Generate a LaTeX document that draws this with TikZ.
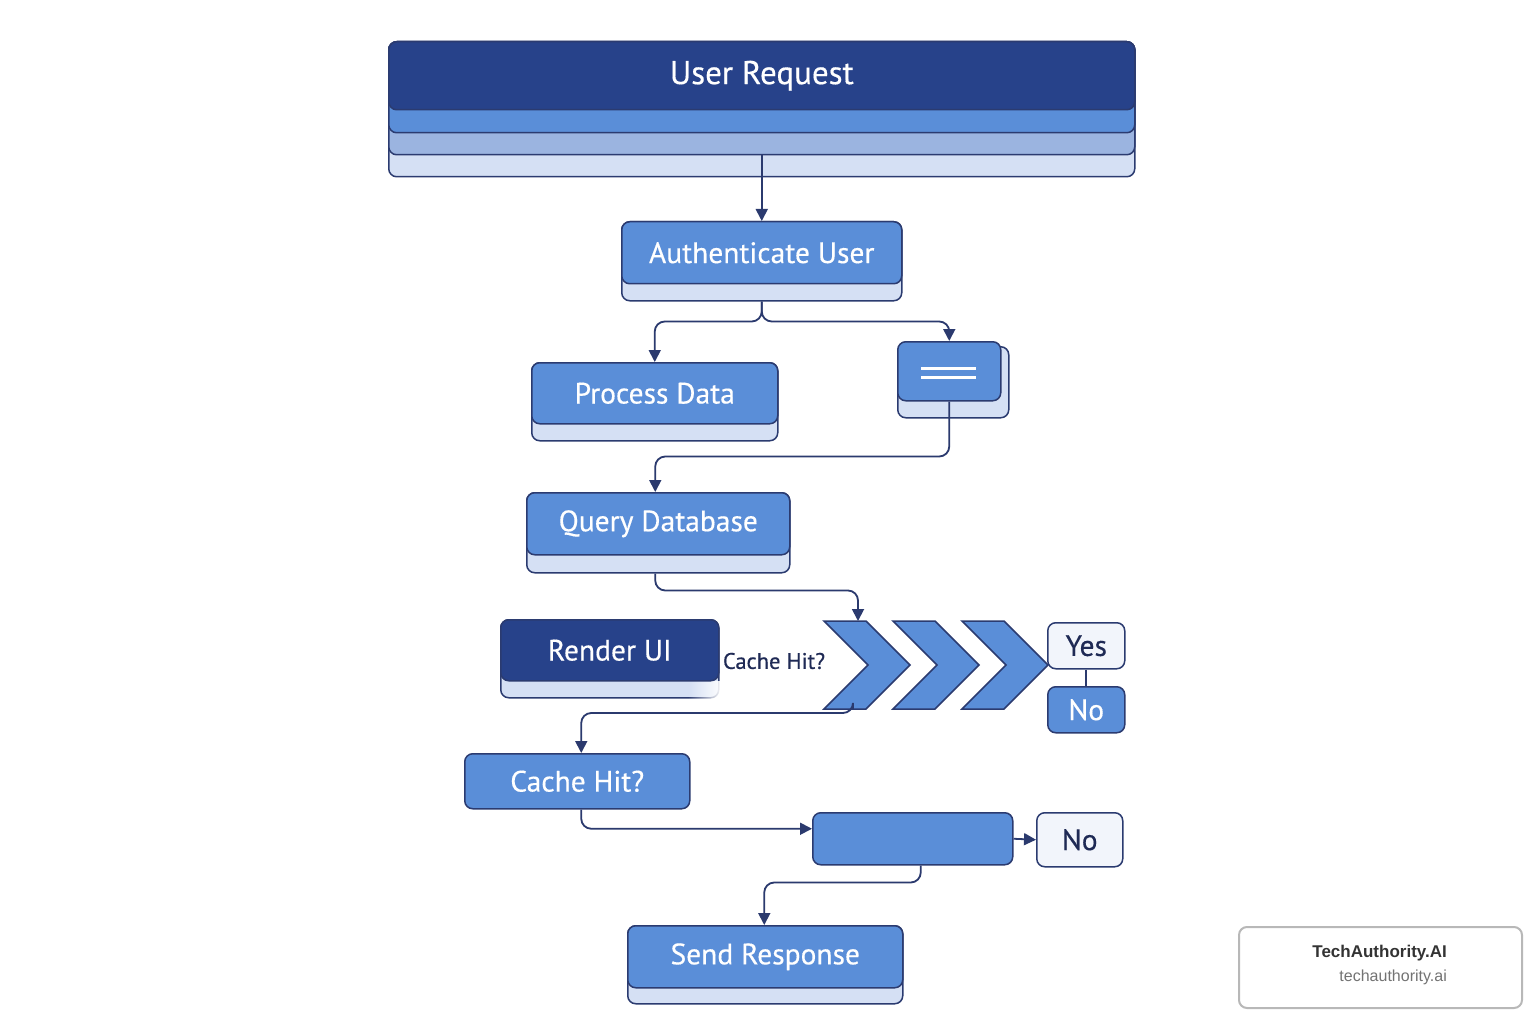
\documentclass[tikz,border=0pt]{standalone}
\usepackage{fontspec}
\setmainfont{PT Sans}[FakeBold=0.4]
\newfontfamily\wmfont{Liberation Sans}
\usetikzlibrary{arrows.meta,calc,fadings}
\definecolor{navy}{HTML}{27428A}
\definecolor{midb}{HTML}{5A8ED8}
\definecolor{lightb}{HTML}{9BB4E0}
\definecolor{palest}{HTML}{D5E0F4}
\definecolor{bord}{HTML}{2B3B70}
\definecolor{linec}{HTML}{2B3A6E}
\definecolor{pale}{HTML}{F2F5FB}
\definecolor{darktext}{HTML}{1F2A55}
\tikzfading[name=fadeR, left color=transparent!100, right color=transparent!0]
\begin{document}
\begin{tikzpicture}[x=1pt,y=-1pt,
  box/.style={draw=bord, line width=1.5pt, rounded corners=8pt, anchor=north west, inner sep=0pt, text=white, font=\fontsize{29.5}{31}\selectfont},
  midbox/.style={box, fill=midb},
  shadbox/.style={box, fill=palest},
  darkbox/.style={box, fill=navy},
  palebox/.style={box, fill=pale, text=darktext},
  arr/.style={draw=linec, line width=1.8pt, -{Triangle[length=12pt,width=12pt]}, rounded corners=10pt},
  plain/.style={draw=linec, line width=1.8pt},
  chev/.style={draw=bord, line width=1.5pt, fill=midb, line join=miter}
]
\useasboundingbox (0,0) rectangle (1536,1024);
\fill[white] (0,0) rectangle (1536,1024);

% User Request stack
\node[box, fill=palest, minimum width=746, minimum height=135] (ur4) at (388,41) {};
\node[box, fill=lightb, minimum width=746, minimum height=113] (ur3) at (388,41) {};
\node[box, fill=midb, minimum width=746, minimum height=91] (ur2) at (388,41) {};
\node[darkbox, minimum width=746, minimum height=68, font=\fontsize{33}{35}\selectfont] (ur) at (388,41) {User Request};

% Authenticate
\node[shadbox, minimum width=280, minimum height=79] (authS) at (621,221) {};
\node[midbox, minimum width=280, minimum height=62] (auth) at (621,221) {Authenticate User};

% Process Data
\node[shadbox, minimum width=246, minimum height=78] (procS) at (531,362) {};
\node[midbox, minimum width=246, minimum height=61] (proc) at (531,362) {Process Data};

% small box
\node[shadbox, minimum width=111, minimum height=71] (smallS) at (897,346) {};
\node[midbox, minimum width=103, minimum height=59] (small) at (897,341) {};
\draw[white, line width=3pt] (921,368) -- (976,368) (921,377) -- (976,377);

% Query Database
\node[shadbox, minimum width=263, minimum height=80] (queryS) at (526,492) {};
\node[midbox, minimum width=263, minimum height=62] (query) at (526,492) {Query Database};

% Render UI
\node[shadbox, minimum width=218, minimum height=78] (renderS) at (500,619) {};
\fill[white, path fading=fadeR] (688,681) rectangle (722,700);
\node[darkbox, minimum width=218, minimum height=61] (render) at (500,619) {Render UI};

% label
\node[text=darktext, font=\fontsize{22.5}{24}\selectfont, inner sep=0pt] (lbl) at (774,661) {Cache Hit?};

% chevrons
\foreach \x in {824,893,962}
  \draw[chev] (\x,621) -- (\x+42,621) -- (\x+86,665) -- (\x+42,709) -- (\x,709) -- (\x+44,665) -- cycle;
\coordinate (ch1top) at (858,621);
\coordinate (ch1bot) at (853,709);

% Yes / No
\node[palebox, minimum width=77, minimum height=46] (yes) at (1047,622) {Yes};
\node[midbox, minimum width=77, minimum height=46] (no1) at (1047,686) {No};
\draw[plain] (yes.south) -- (no1.north);

% Cache Hit box
\node[midbox, minimum width=225, minimum height=55] (cache) at (464,753) {Cache Hit?};

% blank and No
\node[midbox, minimum width=200, minimum height=52] (blank) at (812,812) {};
\node[palebox, minimum width=86, minimum height=54] (no2) at (1036,812) {No};

% Send Response
\node[shadbox, minimum width=275, minimum height=78] (sendS) at (627,925) {};
\node[midbox, minimum width=275, minimum height=62] (send) at (627,925) {Send Response};

% connectors
\draw[arr] (ur3.south) -- (auth.north);
\draw[arr] (authS.south) -- ++(0,20) -| (proc.north);
\draw[arr] (authS.south) -- ++(0,20) -| (small.north);
\draw[arr] (small.south) -- ++(0,55) -| ($(query.north)+(-3,0)$);
\draw[arr] ($(queryS.south)+(-3,0)$) -- ++(0,17) -| (ch1top);
\draw[arr] (ch1bot) -- ++(0,4) -| ($(cache.north)+(4,0)$);
\draw[arr] ($(cache.south)+(4,0)$) |- ($(blank.west)+(0,-10)$);
\draw[arr, rounded corners=0pt] (blank.east) -- (no2.west);
\draw[arr] ($(blank.south)+(8,0)$) -- ++(0,17) -| ($(send.north)+(-1,0)$);

% watermark
\node[draw=black!28, line width=2pt, rounded corners=8pt, fill=white, anchor=north west, minimum width=283, minimum height=81, inner sep=0pt] (wm) at (1238,926) {};
\node[anchor=east, inner sep=0pt, font=\wmfont\bfseries\fontsize{17}{19}\selectfont, text=black!80] (wm1) at (1447,953) {TechAuthority.AI};
\node[anchor=east, inner sep=0pt, font=\wmfont\fontsize{16}{18}\selectfont, text=black!55] (wm2) at (1447,977) {techauthority.ai};
\end{tikzpicture}
\end{document}
